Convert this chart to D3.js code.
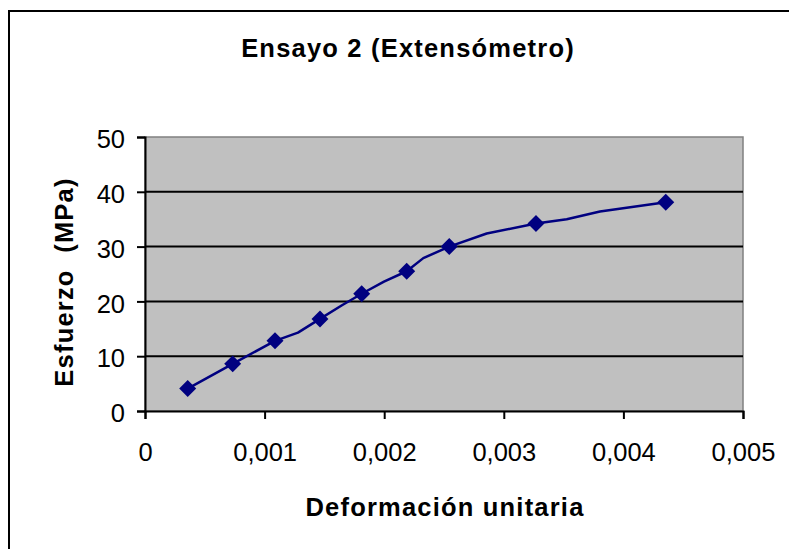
<!DOCTYPE html>
<html><head><meta charset="utf-8">
<script src="https://cdn.jsdelivr.net/npm/d3@7"></script>
<style>body{margin:0;background:#fff}svg{display:block}</style>
</head><body>
<script>
const title = "Ensayo 2 (Extensómetro)";
const xTitle = "Deformación unitaria";
const yTitle = "Esfuerzo  (MPa)";
// marker series
const markerX = [0.000357, 0.000733, 0.001087, 0.001463, 0.001812, 0.002188, 0.002544, 0.003269, 0.004354];
const markerY = [4.1, 8.6, 12.8, 16.8, 21.4, 25.5, 30.0, 34.2, 38.1];
// line series (denser)
const lineX = [0.000357, 0.000733, 0.001087, 0.001279, 0.001463, 0.001647, 0.001812, 0.001998, 0.002188, 0.002327, 0.002544, 0.002857, 0.003269, 0.003526, 0.003804, 0.004354];
const lineY = [4.1, 8.6, 12.8, 14.3, 16.8, 19.3, 21.4, 23.6, 25.5, 27.9, 30.0, 32.4, 34.2, 35.0, 36.4, 38.1];
const xTicks = [0, 0.001, 0.002, 0.003, 0.004, 0.005];
const yTicks = [0, 10, 20, 30, 40, 50];

const W = 789, H = 549;
const FONT = "'Liberation Sans', Arial, sans-serif";
const svg = d3.select("body").append("svg").attr("width", W).attr("height", H);
svg.append("rect").attr("x", 9).attr("y", 11).attr("width", W + 10).attr("height", H + 10)
  .attr("fill", "#fff").attr("stroke", "#000").attr("stroke-width", 2);

const L = 145, R = 743, T = 137, B = 411;
const x = d3.scaleLinear().domain([0, 0.005]).range([L, R]);
const y = d3.scaleLinear().domain([0, 50]).range([B, T]);

svg.append("rect").attr("x", L).attr("y", T).attr("width", R - L).attr("height", B - T)
  .attr("fill", "#c0c0c0").attr("stroke", "#808080").attr("stroke-width", 1.5);

// gridlines
svg.append("g").selectAll("line").data(yTicks.filter(d => d > 0 && d < 50)).join("line")
  .attr("x1", L).attr("x2", R).attr("y1", d => y(d)).attr("y2", d => y(d))
  .attr("stroke", "#000").attr("stroke-width", 2);

const fmt = d => d === 0 ? "0" : d3.format(".3f")(d).replace(".", ",");
const xAxis = svg.append("g").attr("transform", `translate(0,${B})`)
  .call(d3.axisBottom(x).tickValues(xTicks).tickFormat(fmt).tickSize(8).tickPadding(14));
const yAxis = svg.append("g").attr("transform", `translate(${L},0)`)
  .call(d3.axisLeft(y).tickValues(yTicks).tickSize(8).tickPadding(12));
[xAxis, yAxis].forEach(a => {
  a.select(".domain").attr("stroke", "#000").attr("stroke-width", 2);
  a.selectAll(".tick line").attr("stroke", "#000").attr("stroke-width", 2);
  a.selectAll("text").attr("fill", "#000").style("font-family", FONT).style("font-size", "25.5px");
});
xAxis.selectAll("text").attr("y", 50).attr("dy", 0);
yAxis.selectAll("text").attr("dy", "0.36em").attr("transform", "translate(0,1.5)");

const line = d3.line().x(d => x(d[0])).y(d => y(d[1]));
svg.append("path").datum(lineX.map((v, i) => [v, lineY[i]]))
  .attr("d", line).attr("fill", "none").attr("stroke", "#000080").attr("stroke-width", 2.5)
  .attr("stroke-linejoin", "round");

const diamond = d3.symbol().type(d3.symbolSquare).size(144);
svg.append("g").selectAll("path").data(markerX.map((v, i) => [v, markerY[i]])).join("path")
  .attr("d", diamond).attr("transform", d => `translate(${x(d[0])},${y(d[1])}) rotate(45)`)
  .attr("fill", "#000080");

function boldText(sel) {
  return sel.style("font-family", FONT).style("font-weight", "bold").style("font-size", "25.5px")
    .style("letter-spacing", "1.2px").attr("text-anchor", "middle").attr("fill", "#000");
}
boldText(svg.append("text").attr("x", 408).attr("y", 57)).text(title);
boldText(svg.append("text").attr("x", 445).attr("y", 516)).text(xTitle);
boldText(svg.append("text").attr("transform", "translate(73,282) rotate(-90)"))
  .style("white-space", "pre").text(yTitle);
</script>
</body></html>
